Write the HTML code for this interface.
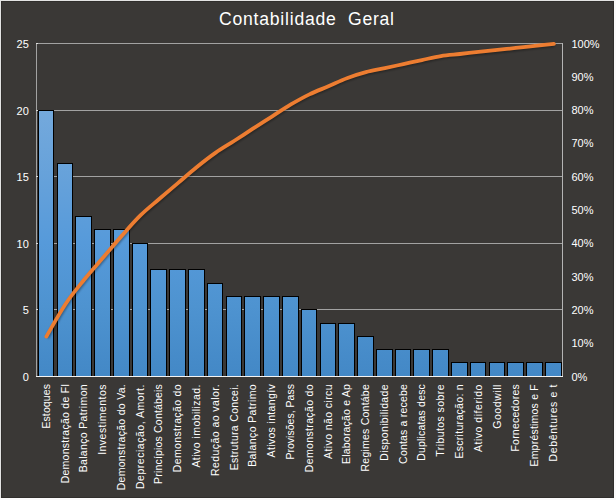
<!DOCTYPE html><html><head><meta charset="utf-8"><style>html,body{margin:0;padding:0;background:#e3e3e3;}svg{display:block;}text{font-family:"Liberation Sans",sans-serif;fill:#fff;}</style></head><body>
<svg width="616" height="500" viewBox="0 0 616 500">
<defs><linearGradient id="bg" gradientUnits="userSpaceOnUse" x1="0" y1="110" x2="0" y2="376"><stop offset="0" stop-color="#74a9dc"/><stop offset="0.27" stop-color="#65a1da"/><stop offset="0.5" stop-color="#569ada"/><stop offset="0.74" stop-color="#4e93d0"/><stop offset="1" stop-color="#4388c6"/></linearGradient><filter id="blur" x="-5%" y="-5%" width="110%" height="110%"><feGaussianBlur stdDeviation="0.8"/></filter></defs>
<rect x="0" y="0" width="616" height="500" fill="#fafafa"/>
<rect x="0" y="0" width="614" height="498" fill="#e3e3e3"/>
<rect x="1" y="1" width="613" height="497" fill="#302e2c"/>
<rect x="2" y="2" width="611" height="495" fill="#3a3836"/>
<text x="219" y="25" font-size="17.6" letter-spacing="0.77" style="white-space:pre" xml:space="preserve">Contabilidade  Geral</text>
<rect x="36" y="43" width="527" height="1" fill="#a2a2a2"/>
<rect x="36" y="110" width="527" height="1" fill="#a2a2a2"/>
<rect x="36" y="176" width="527" height="1" fill="#a2a2a2"/>
<rect x="36" y="243" width="527" height="1" fill="#a2a2a2"/>
<rect x="36" y="309" width="527" height="1" fill="#a2a2a2"/>
<rect x="36" y="376" width="527" height="1" fill="#a2a2a2"/>
<rect x="36" y="43" width="1" height="334" fill="#a2a2a2"/>
<rect x="562" y="43" width="1" height="334" fill="#b4b4b4"/>
<rect x="36" y="43" width="2" height="1" fill="#dcdcdc"/>
<rect x="36" y="110" width="2" height="1" fill="#dcdcdc"/>
<rect x="36" y="176" width="2" height="1" fill="#dcdcdc"/>
<rect x="36" y="243" width="2" height="1" fill="#dcdcdc"/>
<rect x="36" y="309" width="2" height="1" fill="#dcdcdc"/>
<rect x="36" y="376" width="2" height="1" fill="#dcdcdc"/>
<text x="28.8" y="380.5" font-size="11" text-anchor="end">0</text>
<text x="28.8" y="313.5" font-size="11" text-anchor="end">5</text>
<text x="28.8" y="247.5" font-size="11" text-anchor="end">10</text>
<text x="28.8" y="180.5" font-size="11" text-anchor="end">15</text>
<text x="28.8" y="114.5" font-size="11" text-anchor="end">20</text>
<text x="28.8" y="47.5" font-size="11" text-anchor="end">25</text>
<text x="571.5" y="380.5" font-size="11">0%</text>
<text x="571.5" y="347.2" font-size="11">10%</text>
<text x="571.5" y="313.9" font-size="11">20%</text>
<text x="571.5" y="280.6" font-size="11">30%</text>
<text x="571.5" y="247.3" font-size="11">40%</text>
<text x="571.5" y="214.0" font-size="11">50%</text>
<text x="571.5" y="180.7" font-size="11">60%</text>
<text x="571.5" y="147.4" font-size="11">70%</text>
<text x="571.5" y="114.1" font-size="11">80%</text>
<text x="571.5" y="80.8" font-size="11">90%</text>
<text x="571.5" y="47.5" font-size="11">100%</text>
<rect x="38" y="110" width="16" height="266" fill="#000"/>
<rect x="39" y="111" width="14" height="265" fill="url(#bg)"/>
<rect x="57" y="163" width="16" height="213" fill="#000"/>
<rect x="58" y="164" width="14" height="212" fill="url(#bg)"/>
<rect x="75" y="216" width="17" height="160" fill="#000"/>
<rect x="76" y="217" width="15" height="159" fill="url(#bg)"/>
<rect x="94" y="229" width="17" height="147" fill="#000"/>
<rect x="95" y="230" width="15" height="146" fill="url(#bg)"/>
<rect x="113" y="229" width="17" height="147" fill="#000"/>
<rect x="114" y="230" width="15" height="146" fill="url(#bg)"/>
<rect x="132" y="243" width="16" height="133" fill="#000"/>
<rect x="133" y="244" width="14" height="132" fill="url(#bg)"/>
<rect x="150" y="269" width="17" height="107" fill="#000"/>
<rect x="151" y="270" width="15" height="106" fill="url(#bg)"/>
<rect x="169" y="269" width="17" height="107" fill="#000"/>
<rect x="170" y="270" width="15" height="106" fill="url(#bg)"/>
<rect x="188" y="269" width="17" height="107" fill="#000"/>
<rect x="189" y="270" width="15" height="106" fill="url(#bg)"/>
<rect x="207" y="283" width="16" height="93" fill="#000"/>
<rect x="208" y="284" width="14" height="92" fill="url(#bg)"/>
<rect x="226" y="296" width="16" height="80" fill="#000"/>
<rect x="227" y="297" width="14" height="79" fill="url(#bg)"/>
<rect x="244" y="296" width="17" height="80" fill="#000"/>
<rect x="245" y="297" width="15" height="79" fill="url(#bg)"/>
<rect x="263" y="296" width="17" height="80" fill="#000"/>
<rect x="264" y="297" width="15" height="79" fill="url(#bg)"/>
<rect x="282" y="296" width="17" height="80" fill="#000"/>
<rect x="283" y="297" width="15" height="79" fill="url(#bg)"/>
<rect x="301" y="309" width="16" height="67" fill="#000"/>
<rect x="302" y="310" width="14" height="66" fill="url(#bg)"/>
<rect x="320" y="323" width="16" height="53" fill="#000"/>
<rect x="321" y="324" width="14" height="52" fill="url(#bg)"/>
<rect x="338" y="323" width="17" height="53" fill="#000"/>
<rect x="339" y="324" width="15" height="52" fill="url(#bg)"/>
<rect x="357" y="336" width="17" height="40" fill="#000"/>
<rect x="358" y="337" width="15" height="39" fill="url(#bg)"/>
<rect x="376" y="349" width="17" height="27" fill="#000"/>
<rect x="377" y="350" width="15" height="26" fill="url(#bg)"/>
<rect x="395" y="349" width="16" height="27" fill="#000"/>
<rect x="396" y="350" width="14" height="26" fill="url(#bg)"/>
<rect x="413" y="349" width="17" height="27" fill="#000"/>
<rect x="414" y="350" width="15" height="26" fill="url(#bg)"/>
<rect x="432" y="349" width="17" height="27" fill="#000"/>
<rect x="433" y="350" width="15" height="26" fill="url(#bg)"/>
<rect x="451" y="362" width="17" height="14" fill="#000"/>
<rect x="452" y="363" width="15" height="13" fill="url(#bg)"/>
<rect x="470" y="362" width="16" height="14" fill="#000"/>
<rect x="471" y="363" width="14" height="13" fill="url(#bg)"/>
<rect x="489" y="362" width="16" height="14" fill="#000"/>
<rect x="490" y="363" width="14" height="13" fill="url(#bg)"/>
<rect x="507" y="362" width="17" height="14" fill="#000"/>
<rect x="508" y="363" width="15" height="13" fill="url(#bg)"/>
<rect x="526" y="362" width="17" height="14" fill="#000"/>
<rect x="527" y="363" width="15" height="13" fill="url(#bg)"/>
<rect x="545" y="362" width="17" height="14" fill="#000"/>
<rect x="546" y="363" width="15" height="13" fill="url(#bg)"/>
<rect x="36" y="376" width="527" height="1" fill="#f4f4f4"/>
<path d="M46.40,336.54 C49.57,331.15 59.15,313.66 65.40,304.25 C71.65,294.83 77.65,287.76 83.90,280.03 C90.15,272.29 96.57,265.23 102.90,257.83 C109.23,250.43 115.65,242.69 121.90,235.63 C128.15,228.56 134.23,221.50 140.40,215.45 C146.57,209.39 152.65,204.68 158.90,199.30 C165.15,193.92 171.57,188.54 177.90,183.15 C184.23,177.77 190.65,172.05 196.90,167.01 C203.15,161.96 209.15,157.25 215.40,152.88 C221.65,148.51 228.15,144.81 234.40,140.77 C240.65,136.74 246.65,132.70 252.90,128.66 C259.15,124.63 265.57,120.59 271.90,116.55 C278.23,112.52 284.65,108.15 290.90,104.45 C297.15,100.75 303.15,97.38 309.40,94.35 C315.65,91.33 322.15,88.97 328.40,86.28 C334.65,83.59 340.65,80.56 346.90,78.21 C353.15,75.85 359.57,73.84 365.90,72.15 C372.23,70.47 378.65,69.46 384.90,68.12 C391.15,66.77 397.23,65.43 403.40,64.08 C409.57,62.74 415.65,61.39 421.90,60.05 C428.15,58.70 434.57,57.02 440.90,56.01 C447.23,55.00 453.65,54.66 459.90,53.99 C466.15,53.32 472.15,52.65 478.40,51.97 C484.65,51.30 491.15,50.63 497.40,49.95 C503.65,49.28 509.65,48.61 515.90,47.94 C522.15,47.26 528.57,46.59 534.90,45.92 C541.23,45.25 550.73,44.24 553.90,43.90" fill="none" stroke="#000" stroke-opacity="0.35" stroke-width="4" transform="translate(0.8,1.2)" filter="url(#blur)"/>
<path d="M46.40,336.54 C49.57,331.15 59.15,313.66 65.40,304.25 C71.65,294.83 77.65,287.76 83.90,280.03 C90.15,272.29 96.57,265.23 102.90,257.83 C109.23,250.43 115.65,242.69 121.90,235.63 C128.15,228.56 134.23,221.50 140.40,215.45 C146.57,209.39 152.65,204.68 158.90,199.30 C165.15,193.92 171.57,188.54 177.90,183.15 C184.23,177.77 190.65,172.05 196.90,167.01 C203.15,161.96 209.15,157.25 215.40,152.88 C221.65,148.51 228.15,144.81 234.40,140.77 C240.65,136.74 246.65,132.70 252.90,128.66 C259.15,124.63 265.57,120.59 271.90,116.55 C278.23,112.52 284.65,108.15 290.90,104.45 C297.15,100.75 303.15,97.38 309.40,94.35 C315.65,91.33 322.15,88.97 328.40,86.28 C334.65,83.59 340.65,80.56 346.90,78.21 C353.15,75.85 359.57,73.84 365.90,72.15 C372.23,70.47 378.65,69.46 384.90,68.12 C391.15,66.77 397.23,65.43 403.40,64.08 C409.57,62.74 415.65,61.39 421.90,60.05 C428.15,58.70 434.57,57.02 440.90,56.01 C447.23,55.00 453.65,54.66 459.90,53.99 C466.15,53.32 472.15,52.65 478.40,51.97 C484.65,51.30 491.15,50.63 497.40,49.95 C503.65,49.28 509.65,48.61 515.90,47.94 C522.15,47.26 528.57,46.59 534.90,45.92 C541.23,45.25 550.73,44.24 553.90,43.90" fill="none" stroke="#ed7d31" stroke-width="3.8" stroke-linecap="round" stroke-linejoin="round"/>
<text transform="translate(49.5,384) rotate(-90)" font-size="10.5" letter-spacing="0.099" text-anchor="end">Estoques</text>
<text transform="translate(68.5,384) rotate(-90)" font-size="10.5" letter-spacing="0.266" text-anchor="end">Demonstração de Fl</text>
<text transform="translate(87.0,384) rotate(-90)" font-size="10.5" letter-spacing="0.342" text-anchor="end">Balanço Patrimon</text>
<text transform="translate(106.0,384) rotate(-90)" font-size="10.5" letter-spacing="0.465" text-anchor="end">Investimentos</text>
<text transform="translate(125.0,384) rotate(-90)" font-size="10.5" letter-spacing="0.290" text-anchor="end">Demonstração do Va.</text>
<text transform="translate(143.5,384) rotate(-90)" font-size="10.5" letter-spacing="0.520" text-anchor="end">Depreciação, Amort.</text>
<text transform="translate(162.0,384) rotate(-90)" font-size="10.5" letter-spacing="0.178" text-anchor="end">Princípios Contábeis</text>
<text transform="translate(181.0,384) rotate(-90)" font-size="10.5" letter-spacing="0.356" text-anchor="end">Demonstração do</text>
<text transform="translate(200.0,384) rotate(-90)" font-size="10.5" letter-spacing="0.454" text-anchor="end">Ativo imobilizad.</text>
<text transform="translate(218.5,384) rotate(-90)" font-size="10.5" letter-spacing="0.431" text-anchor="end">Redução ao valor.</text>
<text transform="translate(237.5,384) rotate(-90)" font-size="10.5" letter-spacing="0.307" text-anchor="end">Estrutura Concei.</text>
<text transform="translate(256.0,384) rotate(-90)" font-size="10.5" letter-spacing="0.381" text-anchor="end">Balanço Patrimo</text>
<text transform="translate(275.0,384) rotate(-90)" font-size="10.5" letter-spacing="0.343" text-anchor="end">Ativos intangív</text>
<text transform="translate(294.0,384) rotate(-90)" font-size="10.5" letter-spacing="0.021" text-anchor="end">Provisões, Pass</text>
<text transform="translate(312.5,384) rotate(-90)" font-size="10.5" letter-spacing="0.356" text-anchor="end">Demonstração do</text>
<text transform="translate(331.5,384) rotate(-90)" font-size="10.5" letter-spacing="0.407" text-anchor="end">Ativo não circu</text>
<text transform="translate(350.0,384) rotate(-90)" font-size="10.5" letter-spacing="0.189" text-anchor="end">Elaboração e Ap</text>
<text transform="translate(369.0,384) rotate(-90)" font-size="10.5" letter-spacing="0.227" text-anchor="end">Regimes Contábe</text>
<text transform="translate(388.0,384) rotate(-90)" font-size="10.5" letter-spacing="0.369" text-anchor="end">Disponibilidade</text>
<text transform="translate(406.5,384) rotate(-90)" font-size="10.5" letter-spacing="0.189" text-anchor="end">Contas a recebe</text>
<text transform="translate(425.0,384) rotate(-90)" font-size="10.5" letter-spacing="0.176" text-anchor="end">Duplicatas desc</text>
<text transform="translate(444.0,384) rotate(-90)" font-size="10.5" letter-spacing="0.427" text-anchor="end">Tributos sobre</text>
<text transform="translate(463.0,384) rotate(-90)" font-size="10.5" letter-spacing="0.304" text-anchor="end">Escrituração: n</text>
<text transform="translate(481.5,384) rotate(-90)" font-size="10.5" letter-spacing="0.524" text-anchor="end">Ativo diferido</text>
<text transform="translate(500.5,384) rotate(-90)" font-size="10.5" letter-spacing="0.561" text-anchor="end">Goodwill</text>
<text transform="translate(519.0,384) rotate(-90)" font-size="10.5" letter-spacing="0.232" text-anchor="end">Fornecedores</text>
<text transform="translate(538.0,384) rotate(-90)" font-size="10.5" letter-spacing="0.214" text-anchor="end">Empréstimos e F</text>
<text transform="translate(557.0,384) rotate(-90)" font-size="10.5" letter-spacing="0.607" text-anchor="end">Debêntures e t</text>
</svg></body></html>
